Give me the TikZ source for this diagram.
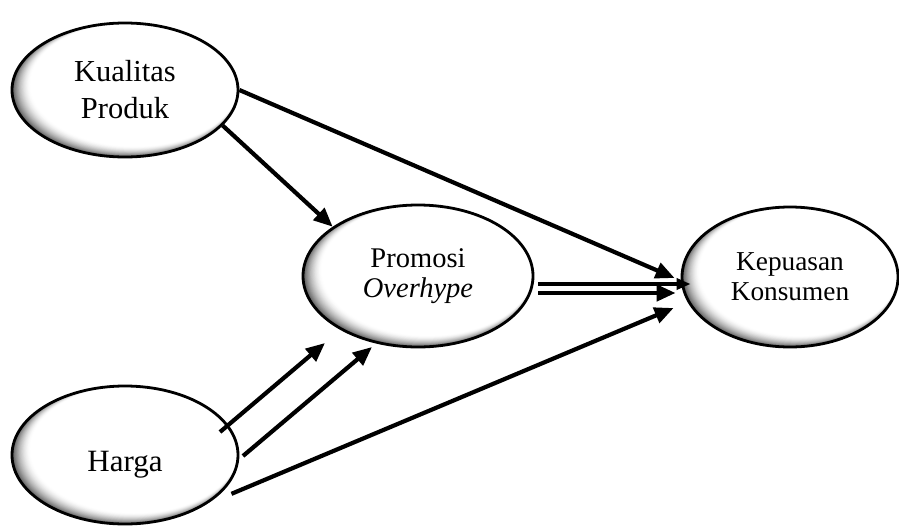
\documentclass[tikz,border=0pt]{standalone}
\usepackage{fontspec}
\setmainfont{Liberation Serif}
\usetikzlibrary{arrows.meta,shapes.geometric}

% Oval construct: #1 = x radius, #2 = y radius (pt).
% The fill is a stack of shrinking ovals that drift up and right,
% going from grey at the lower-left rim to white in the middle.
\tikzset{
  construct/.style n args={2}{ellipse, draw=black, line width=2.8pt,
    inner sep=0pt, align=center,
    minimum width=2*#1 pt, minimum height=2*#2 pt,
    path picture={
      \foreach \k in {0,...,24}{
        \pgfmathsetmacro\t{\k/24}
        \pgfmathsetmacro\g{72*(1-\t)^1.7}
        \pgfmathsetmacro\dx{\t*0.085*#1}
        \pgfmathsetmacro\dy{\t*0.085*#2}
        \pgfmathsetmacro\rx{#1*(1-0.085*\t)+1}
        \pgfmathsetmacro\ry{#2*(1-0.085*\t)+1}
        \fill[black!\g] ([shift={(\dx pt,\dy pt)}]path picture bounding box.center)
          ellipse [x radius=\rx pt, y radius=\ry pt];
      }}},
  arr/.style={line width=4.2pt, -{Triangle[length=19pt,width=16pt]}},
}

\begin{document}
\begin{tikzpicture}[x=1pt,y=-1pt]
\useasboundingbox (0,0) rectangle (899,525);

\node[construct={113}{67},
  font=\fontsize{30.5}{37}\selectfont] (kp) at (125,90) {Kualitas\\Produk};
\node[construct={113}{69},
  font=\fontsize{31}{37}\selectfont] (hg) at (125,455)
  {\raisebox{-16pt}[0pt][0pt]{Harga}};
\node[construct={115}{71},
  font=\fontsize{28.5}{30}\selectfont] (pr) at (418,276) {Promosi\\\textit{Overhype}};
\node[construct={108}{70},
  font=\fontsize{27.3}{30}\selectfont] (kk) at (790,277) {Kepuasan\\Konsumen};

% direct effects
\draw[arr] (kp.east) -- ([shift={(-6,1)}]kk.west);
\draw[arr] ([shift={(8,3)}]hg.-20) -- ([shift={(-7,31)}]kk.west);

% paths into the mediator
\draw[arr] (kp.-20) -- (pr.150);
\draw[arr] ([shift={(95,-23)}]hg.center) -- ([shift={(-93,67)}]pr.center);
\draw[arr] ([shift={(118,1)}]hg.center) -- ([shift={(-46,71)}]pr.center);

% mediator to outcome (double stroke)
\draw[line width=4.4pt, -{Triangle[length=14pt,width=11pt]}]
  ([shift={(4,8)}]pr.east) -- ([shift={(10,7)}]kk.west);
\draw[line width=4.4pt, -{Triangle[length=19pt,width=16pt]}]
  ([shift={(4,17)}]pr.east) -- ([shift={(-5,16)}]kk.west);
\end{tikzpicture}
\end{document}
